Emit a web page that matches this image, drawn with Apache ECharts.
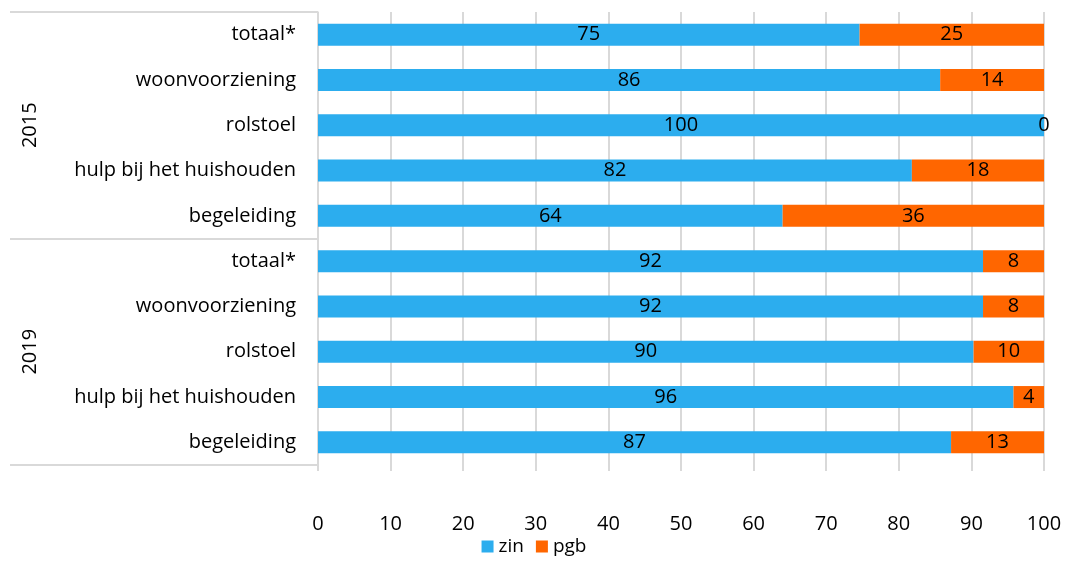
<!DOCTYPE html>
<html><head><meta charset="utf-8">
<script src="https://cdn.jsdelivr.net/npm/echarts@6/dist/echarts.min.js"></script>
<style>html,body{margin:0;padding:0;background:#fff}#c{width:1068px;height:561px}</style>
</head><body><div id="c"></div>
<script>
const years = ['2015', '2019'];
const categories = ['totaal*', 'woonvoorziening', 'rolstoel', 'hulp bij het huishouden', 'begeleiding',
                    'totaal*', 'woonvoorziening', 'rolstoel', 'hulp bij het huishouden', 'begeleiding'];
const zin = [74.6, 85.7, 100, 81.8, 64.0, 91.6, 91.6, 90.3, 95.8, 87.2];
const pgb = [25.4, 14.3, 0, 18.2, 36.0, 8.4, 8.4, 9.7, 4.2, 12.8];
const xTicks = [0, 10, 20, 30, 40, 50, 60, 70, 80, 90, 100];

const FONT = '"Open Sans", sans-serif';
const FS = 20;
const chart = echarts.init(document.getElementById('c'));
const lbl = {show: true, position: 'inside', color: '#000', fontSize: FS, fontFamily: FONT,
  formatter: p => String(Math.round(p.value))};
chart.setOption({
  animation: false,
  textStyle: {fontFamily: FONT},
  legend: {bottom: 0, left: 'center', itemWidth: 12, itemHeight: 12, itemGap: 12,
    textStyle: {fontSize: 19, color: '#000', fontFamily: FONT}, icon: 'rect'},
  grid: {left: 318, right: 24, top: 12, bottom: 96, containLabel: false},
  xAxis: {type: 'value', min: 0, max: 100, interval: 10,
    axisLine: {show: false},
    axisTick: {show: true, length: 6, lineStyle: {color: '#d9d9d9', width: 2}},
    splitLine: {show: true, lineStyle: {color: '#d9d9d9', width: 2}},
    axisLabel: {color: '#000', fontSize: FS, margin: 49, fontFamily: FONT,
      formatter: v => xTicks.includes(v) ? String(v) : ''}},
  yAxis: [
    {type: 'category', data: categories, inverse: true,
      axisLine: {show: true, lineStyle: {color: '#d9d9d9', width: 1.5}},
      axisTick: {show: false},
      axisLabel: {color: '#000', fontSize: FS, margin: 22, fontFamily: FONT}},
    {type: 'category', data: years, inverse: true, position: 'left', offset: 308,
      axisLine: {show: false},
      axisTick: {show: true, inside: true, length: 308, lineStyle: {color: '#d9d9d9', width: 2}},
      axisLabel: {inside: true, rotate: 90, margin: 10, color: '#000', fontSize: FS, fontFamily: FONT}}
  ],
  series: [
    {name: 'zin', type: 'bar', stack: 'a', yAxisIndex: 0, data: zin, barWidth: 22,
      itemStyle: {color: '#2CADEE'}, label: lbl},
    {name: 'pgb', type: 'bar', stack: 'a', yAxisIndex: 0, data: pgb, barWidth: 22,
      itemStyle: {color: '#FF6600'}, label: lbl}
  ]
});
</script></body></html>
